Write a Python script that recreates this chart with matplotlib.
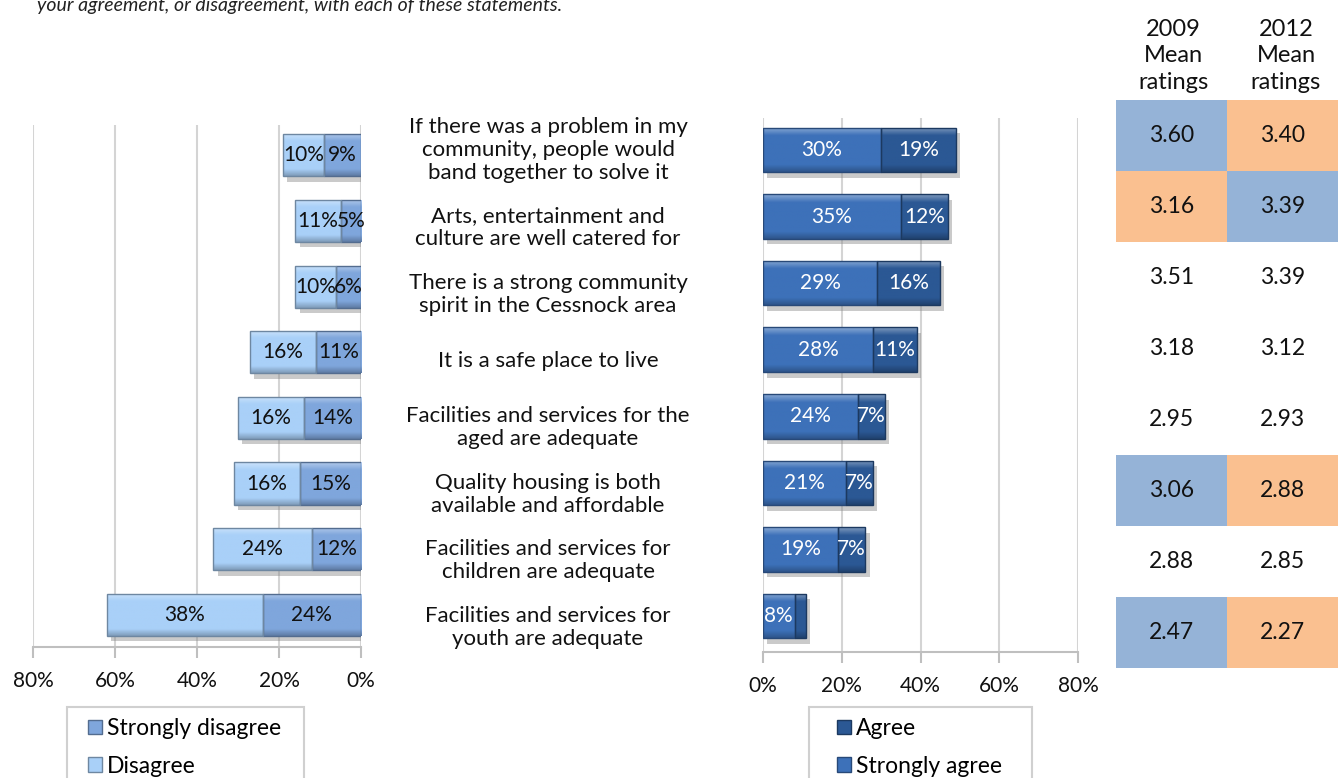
import numpy as np
import matplotlib
matplotlib.use("Agg")
import matplotlib.pyplot as plt
import matplotlib.transforms as mtransforms
import matplotlib.patheffects as pe
from matplotlib.patches import Patch, Rectangle
from matplotlib.colors import to_rgb

plt.rcParams['font.family'] = ['Lato', 'DejaVu Sans']

# ---- data ----
statements = [
    "If there was a problem in my\ncommunity, people would\nband together to solve it",
    "Arts, entertainment and\nculture are well catered for",
    "There is a strong community\nspirit in the Cessnock area",
    "It is a safe place to live",
    "Facilities and services for the\naged are adequate",
    "Quality housing is both\navailable and affordable",
    "Facilities and services for\nchildren are adequate",
    "Facilities and services for\nyouth are adequate",
]
strongly_disagree = [9, 5, 6, 11, 14, 15, 12, 24]
disagree = [10, 11, 10, 16, 16, 16, 24, 38]
agree = [30, 35, 29, 28, 24, 21, 19, 8]
strongly_agree = [19, 12, 16, 11, 7, 7, 7, 3]
mean_2009 = [3.60, 3.16, 3.51, 3.18, 2.95, 3.06, 2.88, 2.47]
mean_2012 = [3.40, 3.39, 3.39, 3.12, 2.93, 2.88, 2.85, 2.27]
# significant change flags: 1 = 2009 higher, -1 = 2012 higher, 0 = none
change = [1, -1, 0, 0, 0, 1, 0, 1]
left_ticks = [80, 60, 40, 20, 0]
right_ticks = [0, 20, 40, 60, 80]
col_headers = ["2009\nMean\nratings", "2012\nMean\nratings"]

W, H = 1338, 778
fig = plt.figure(figsize=(W / 100, H / 100), dpi=100)
fig.patch.set_facecolor("white")


def fx(px):
    return px / W


def fy(py):
    return 1 - py / H


C_SD = "#7fa6dc"
C_D = "#a9d0f8"
C_A = "#3d71b9"
C_SA = "#2b5894"
FS_BAR = 15
FS_TICK = 15
FS_LAB = 16
FS_TAB = 16.5
FS_HEAD = 17
FS_LEG = 16.5
TXT = '#111111'


def shade(c, f):
    r = np.array(to_rgb(c))
    if f >= 0:
        return tuple(r + (1 - r) * f)
    return tuple(r * (1 + f))


def bevel(ax, bars, color):
    # vertical gradient clipped to each bar to give a bevelled look
    n = 64
    top = np.array(shade(color, 0.40))
    mid = np.array(to_rgb(color))
    bot = np.array(shade(color, -0.25))
    img = np.zeros((n, 1, 3))
    for i, g in enumerate(np.linspace(0, 1, n)):
        if g < 0.18:
            t = g / 0.18
            img[i, 0] = top * (1 - t) + mid * t
        elif g < 0.84:
            img[i, 0] = mid
        else:
            t = (g - 0.84) / 0.16
            img[i, 0] = mid * (1 - t) + bot * t
    for b in bars:
        x0, y0 = b.get_x(), b.get_y()
        w, h = b.get_width(), b.get_height()
        if w == 0:
            continue
        im = ax.imshow(img, extent=(x0, x0 + w, y0 + h, y0), aspect='auto',
                       zorder=b.get_zorder() + 0.1, interpolation='bilinear')
        im.set_clip_path(b)
        ax.add_patch(Rectangle((x0, y0), w, h, fill=False,
                               edgecolor=shade(color, -0.35), lw=1.0,
                               zorder=b.get_zorder() + 0.2))


shadow = [pe.SimplePatchShadow(offset=(3, -4), shadow_rgbFace="#8a8a8a", alpha=0.45), pe.Normal()]

y = np.arange(len(statements))


def style_axis(ax):
    ax.set_yticks([])
    ax.grid(axis='x', color='#d4d4d4', lw=1.5, zorder=0)
    for s in ('top', 'right', 'left'):
        ax.spines[s].set_visible(False)
    ax.spines['bottom'].set_color('#bfbfbf')
    ax.spines['bottom'].set_linewidth(1.5)
    ax.tick_params(axis='x', length=8, width=1.5, color='#bfbfbf', pad=9,
                   direction='out', labelcolor=TXT)
    ax.set_facecolor('none')


# ---- left chart: disagreement ----
axL = fig.add_axes([fx(33), fy(647), fx(361 - 33), (647 - 125) / H])
b1 = axL.barh(y, strongly_disagree, height=0.64, color=C_SD, zorder=3)
b2 = axL.barh(y, disagree, left=strongly_disagree, height=0.64, color=C_D, zorder=3)
for b in list(b1) + list(b2):
    b.set_path_effects(shadow)
bevel(axL, b1, C_SD)
bevel(axL, b2, C_D)
for bars, vals in ((b1, strongly_disagree), (b2, disagree)):
    for b, v in zip(bars, vals):
        axL.text(b.get_x() + b.get_width() / 2, b.get_y() + b.get_height() / 2,
                 f"{v}%", ha='center', va='center', fontsize=FS_BAR, color=TXT, zorder=6)
axL.set_xlim(80, 0)
axL.set_ylim(7.49, -0.46)
axL.set_xticks(left_ticks)
axL.set_xticklabels([f"{t}%" for t in left_ticks], fontsize=FS_TICK)
style_axis(axL)

# ---- right chart: agreement ----
axR = fig.add_axes([fx(763), fy(652), fx(1078 - 763), (652 - 118) / H])
b3 = axR.barh(y, agree, height=0.67, color=C_A, zorder=3)
b4 = axR.barh(y, strongly_agree, left=agree, height=0.67, color=C_SA, zorder=3)
for b in list(b3) + list(b4):
    b.set_path_effects(shadow)
bevel(axR, b3, C_A)
bevel(axR, b4, C_SA)
for bars, vals in ((b3, agree), (b4, strongly_agree)):
    for b, v in zip(bars, vals):
        if v < 5:
            continue
        axR.text(b.get_x() + b.get_width() / 2, b.get_y() + b.get_height() / 2,
                 f"{v}%", ha='center', va='center', fontsize=FS_BAR, color='white', zorder=6)
axR.set_xlim(0, 80)
axR.set_ylim(7.54, -0.48)
axR.set_xticks(right_ticks)
axR.set_xticklabels([f"{t}%" for t in right_ticks], fontsize=FS_TICK)
style_axis(axR)

# ---- statement labels between the charts ----
lab_tr = mtransforms.blended_transform_factory(fig.transFigure, axR.transData)
for i, s in enumerate(statements):
    off = 0.0 if s.count("\n") >= 2 else 0.17
    fig.text(fx(548), i + off, s, transform=lab_tr, ha='center', va='center',
             fontsize=FS_LAB, color=TXT, linespacing=1.2)

# ---- mean ratings table ----
axT = fig.add_axes([fx(1116), fy(100 + 71 * 8), fx(1338 - 1116), 71 * 8 / H])
axT.set_xlim(0, 2)
axT.set_ylim(8, 0)
axT.axis('off')
BLUE, ORANGE = "#95b3d7", "#fac090"
for i in range(len(mean_2009)):
    if change[i] == 1:
        cols = (BLUE, ORANGE)
    elif change[i] == -1:
        cols = (ORANGE, BLUE)
    else:
        cols = (None, None)
    for j, (vals, c) in enumerate(((mean_2009, cols[0]), (mean_2012, cols[1]))):
        if c is not None:
            axT.add_patch(Rectangle((j, i), 1, 1, facecolor=c, edgecolor='none'))
        axT.text(j + 0.5, i + 0.5, f"{vals[i]:.2f}", ha='center', va='center',
                 fontsize=FS_TAB, color=TXT)
for j, h in enumerate(col_headers):
    fig.text(fx(1116 + 57 + 113 * j), fy(56), h, ha='center', va='center',
             fontsize=FS_HEAD, color=TXT, linespacing=1.3)

# ---- question text (runs off the top edge) ----
fig.text(fx(37), fy(11), "your agreement, or disagreement, with each of these statements.",
         ha='left', va='baseline', fontsize=14, style='italic', color='#222222')

# ---- legends ----
for x0, x1 in ((67, 304), (809, 1032)):
    fig.patches.append(Rectangle((fx(x0), fy(800)), fx(x1 - x0), (800 - 707) / H,
                                 transform=fig.transFigure, fill=False,
                                 edgecolor='#d0d0d0', lw=1.5))

leg_kw = dict(loc='upper left', fontsize=FS_LEG, frameon=False, handlelength=0.62,
              handleheight=0.62, labelspacing=0.74, borderpad=0, handletextpad=0.2,
              borderaxespad=0)
fig.legend(handles=[Patch(facecolor=C_SD, edgecolor=shade(C_SD, -0.35), label="Strongly disagree"),
                    Patch(facecolor=C_D, edgecolor=shade(C_D, -0.35), label="Disagree")],
           bbox_to_anchor=(fx(88), fy(718)), **leg_kw)
fig.legend(handles=[Patch(facecolor=C_SA, edgecolor=shade(C_SA, -0.35), label="Agree"),
                    Patch(facecolor=C_A, edgecolor=shade(C_A, -0.35), label="Strongly agree")],
           bbox_to_anchor=(fx(837), fy(718)), **leg_kw)

fig.savefig("out.png", dpi=100, facecolor='white')
